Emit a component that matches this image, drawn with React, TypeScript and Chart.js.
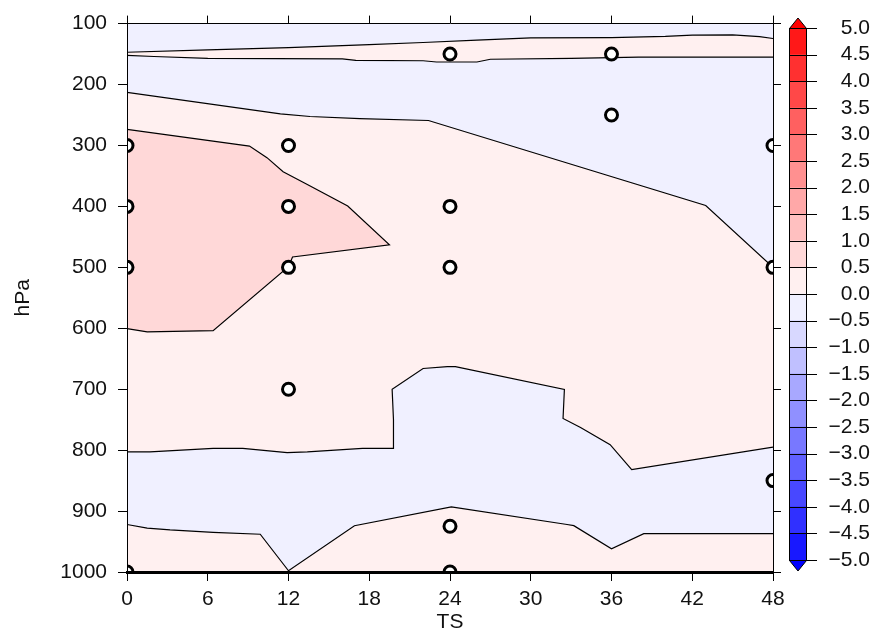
import React, { useEffect, useRef } from 'react';
import { Chart, registerables } from 'chart.js';

Chart.register(...registerables);

const FONT = "'Liberation Sans', Arial, Helvetica, sans-serif";

// ---- axes ----
const tsMin = 0;
const tsMax = 48;
const tsStep = 6;
const hpaMin = 100;
const hpaMax = 1000;
const hpaStep = 100;

// ---- contour lines (TS, hPa) ----
const lineTopUpperTS = [0, 6, 12, 18, 22, 26, 30, 36, 40, 42, 45, 47, 48];
const lineTopUpperHPa = [147, 143, 139.5, 134.5, 131, 127, 123.5, 123, 121, 119, 118.5, 121.5, 124.5];

const lineTopLowerTS = [0, 2, 6, 16, 17, 22, 23, 26, 27, 33, 38, 48];
const lineTopLowerHPa = [152, 154, 157, 158, 160.5, 161, 163, 163, 158.5, 157, 155, 155];

const lineUpperTS = [0, 11.4, 13.6, 17.3, 22.4, 43, 48];
const lineUpperHPa = [213, 248, 252.5, 256, 259, 398.5, 500];

const lineWarmTS = [0, 9.1, 10.4, 11.6, 13.4, 16.4, 19.5, 12.3, 12, 6.4, 1.5, 0];
const lineWarmHPa = [273.5, 301, 320, 343, 364, 399.5, 463, 483, 499, 604, 606, 600.5];

const lineMidTS = [0, 1.7, 6.4, 8.6, 11.9, 13.4, 17.5, 19.8, 19.8, 19.7, 22, 23.8, 24.4, 32.5, 32.4, 33.7, 35.9, 37.5, 48];
const lineMidHPa = [803, 803, 797, 797, 804, 803, 797, 797, 750, 700, 666, 663, 663, 700.5, 748, 763, 791, 832, 795];

const lineLowTS = [0, 1.5, 3.2, 6.4, 9.9, 12, 16.9, 24.1, 32.7, 33.2, 36, 38.4, 48];
const lineLowHPa = [922, 928, 931, 935, 938, 998, 924, 893, 922, 924, 962, 937, 937];

// ---- significance markers ----
const sigTS = [0, 0, 0, 0, 12, 12, 12, 12, 24, 24, 24, 24, 24, 36, 36, 48, 48, 48];
const sigHPa = [300, 400, 500, 1000, 300, 400, 500, 700, 150, 400, 500, 925, 1000, 150, 250, 300, 500, 850];

// ---- colour bar ----
const cbLevels = [-5.0, -4.5, -4.0, -3.5, -3.0, -2.5, -2.0, -1.5, -1.0, -0.5, 0.0, 0.5, 1.0, 1.5, 2.0, 2.5, 3.0, 3.5, 4.0, 4.5, 5.0];
const cbColors = [
  '#1818ff', '#3030ff', '#4848ff', '#6060ff', '#7878ff', '#9090ff', '#a8a8ff', '#c0c0ff', '#d8d8ff', '#f0f0ff',
  '#fff0f0', '#ffd8d8', '#ffc0c0', '#ffa8a8', '#ff9090', '#ff7878', '#ff6060', '#ff4848', '#ff3030', '#ff1818',
];
const cbUnderColor = '#0000ff';
const cbOverColor = '#ff0000';

const colNeg1 = '#f0f0ff'; // -0.5..0
const colPos1 = '#fff0f0'; // 0..0.5
const colPos2 = '#ffd8d8'; // 0.5..1.0

const pts = (xs: number[], ys: number[]) => xs.map((x, i) => ({ x, y: ys[i] }));
const rev = <T,>(a: T[]) => a.slice().reverse();

const tickFont = { family: FONT, size: 21 };
const TXT = '#111';

const fmtCb = (v: number) => (v < -1e-9 ? '\u2212' : '') + Math.abs(v).toFixed(1);

export default function App() {
  const mainRef = useRef<HTMLCanvasElement>(null);
  const cbRef = useRef<HTMLCanvasElement>(null);

  useEffect(() => {
    const frame = pts([tsMin, tsMax, tsMax, tsMin], [hpaMin, hpaMin, hpaMax, hpaMax]);
    const polyTop = [...pts([tsMin, tsMax], [hpaMin, hpaMin]), ...rev(pts(lineTopUpperTS, lineTopUpperHPa))];
    const polyUpperBlue = [...pts(lineTopLowerTS, lineTopLowerHPa), ...rev(pts(lineUpperTS, lineUpperHPa))];
    const polyWarm = pts(lineWarmTS, lineWarmHPa);
    const polyLowBlue = [...pts(lineMidTS, lineMidHPa), ...rev(pts(lineLowTS, lineLowHPa))];

    const poly = (data: any[], color: string, order: number) => ({
      type: 'line',
      data,
      xAxisID: 'x',
      yAxisID: 'y',
      fill: 'shape',
      backgroundColor: color,
      borderWidth: 0,
      borderColor: 'rgba(0,0,0,0)',
      pointRadius: 0,
      order,
    });
    const cline = (xs: number[], ys: number[]) => ({
      type: 'line',
      data: pts(xs, ys),
      xAxisID: 'x',
      yAxisID: 'y',
      fill: false,
      borderColor: '#000',
      borderWidth: 1.2,
      pointRadius: 0,
      order: 1,
    });

    const main = new Chart(mainRef.current!, {
      type: 'line',
      data: {
        datasets: [
          poly(frame, colPos1, 7),
          poly(polyTop, colNeg1, 6),
          poly(polyUpperBlue, colNeg1, 5),
          poly(polyWarm, colPos2, 4),
          poly(polyLowBlue, colNeg1, 3),
          cline(lineTopUpperTS, lineTopUpperHPa),
          cline(lineTopLowerTS, lineTopLowerHPa),
          cline(lineUpperTS, lineUpperHPa),
          cline(lineWarmTS, lineWarmHPa),
          cline(lineMidTS, lineMidHPa),
          cline(lineLowTS, lineLowHPa),
          {
            type: 'line',
            data: pts(sigTS, sigHPa),
            xAxisID: 'x',
            yAxisID: 'y',
            showLine: false,
            fill: false,
            pointRadius: 6,
            pointBorderWidth: 3,
            pointBackgroundColor: '#fff',
            pointBorderColor: '#000',
            pointStyle: 'circle',
            clip: 0,
            order: 0,
          },
        ] as any,
      },
      options: {
        animation: false,
        responsive: false,
        maintainAspectRatio: false,
        layout: { padding: 0 },
        events: [],
        plugins: { legend: { display: false }, tooltip: { enabled: false }, filler: { propagate: false } },
        elements: { line: { tension: 0 } },
        scales: {
          x: {
            type: 'linear',
            position: 'bottom',
            min: tsMin,
            max: tsMax,
            ticks: { stepSize: tsStep, font: tickFont, color: TXT, padding: 6, maxRotation: 0, autoSkip: false, callback: (v: any) => String(v), z: 1 },
            grid: { drawOnChartArea: false, drawTicks: true, tickLength: 9, color: '#000', lineWidth: 1, z: 1 },
            border: { display: true, color: '#000', width: 3, z: 1 },
            title: { display: true, text: 'TS', font: tickFont, color: TXT, padding: { top: 0, bottom: 1 } },
            afterFit: (s: any) => { s.height = 64; },
          },
          xTop: {
            type: 'linear',
            position: 'top',
            min: tsMin,
            max: tsMax,
            ticks: { display: false, stepSize: tsStep },
            grid: { drawOnChartArea: false, drawTicks: true, tickLength: 8, color: '#000', lineWidth: 1, z: 1 },
            border: { display: true, color: '#000', width: 1, z: 1 },
            afterFit: (s: any) => { s.height = 17; },
          },
          y: {
            type: 'linear',
            position: 'left',
            reverse: true,
            min: hpaMin,
            max: hpaMax,
            ticks: { stepSize: hpaStep, font: tickFont, color: TXT, padding: 11, autoSkip: false, callback: (v: any) => String(v), z: 1 },
            grid: { drawOnChartArea: false, drawTicks: true, tickLength: 9, color: '#000', lineWidth: 1, z: 1 },
            border: { display: true, color: '#000', width: 1, z: 1 },
            title: { display: true, text: 'hPa', font: tickFont, color: TXT, padding: { top: 11, bottom: 0 } },
            afterFit: (s: any) => { s.width = 127; },
          },
          yRight: {
            type: 'linear',
            position: 'right',
            reverse: true,
            min: hpaMin,
            max: hpaMax,
            ticks: { display: false, stepSize: hpaStep },
            grid: { drawOnChartArea: false, drawTicks: true, tickLength: 8, color: '#000', lineWidth: 1, z: 1 },
            border: { display: true, color: '#000', width: 1, z: 1 },
            afterFit: (s: any) => { s.width = 103; },
          },
        },
      } as any,
    });

    const cbFrame = {
      id: 'cbFrame',
      afterDraw(chart: any) {
        const { ctx, chartArea } = chart;
        const ys = chart.scales.y;
        const { left, right } = chartArea;
        const L = Math.round(left);
        const R = Math.round(right);
        const mid = (left + right) / 2;
        const yTop = ys.getPixelForValue(cbLevels[cbLevels.length - 1]);
        const yBot = ys.getPixelForValue(cbLevels[0]);
        ctx.save();
        ctx.lineWidth = 1;
        ctx.strokeStyle = '#000';
        // bin boundaries + outward ticks
        ctx.beginPath();
        for (const lv of cbLevels) {
          const y = Math.round(ys.getPixelForValue(lv)) + 0.5;
          ctx.moveTo(L, y);
          ctx.lineTo(R + 10, y);
        }
        ctx.moveTo(L + 0.5, Math.round(yTop));
        ctx.lineTo(L + 0.5, Math.round(yBot) + 1);
        ctx.moveTo(R - 0.5, Math.round(yTop));
        ctx.lineTo(R - 0.5, Math.round(yBot) + 1);
        ctx.stroke();
        // over / under arrows
        ctx.beginPath();
        ctx.moveTo(L + 0.5, yTop + 0.5);
        ctx.lineTo(mid, yTop - 10);
        ctx.lineTo(R - 0.5, yTop + 0.5);
        ctx.closePath();
        ctx.fillStyle = cbOverColor;
        ctx.fill();
        ctx.stroke();
        ctx.beginPath();
        ctx.moveTo(L + 0.5, yBot + 0.5);
        ctx.lineTo(mid, yBot + 11);
        ctx.lineTo(R - 0.5, yBot + 0.5);
        ctx.closePath();
        ctx.fillStyle = cbUnderColor;
        ctx.fill();
        ctx.stroke();
        ctx.restore();
      },
    };

    const cb = new Chart(cbRef.current!, {
      type: 'bar',
      data: {
        labels: ['cb'],
        datasets: cbColors.map((c, i) => ({
          data: [[cbLevels[i], cbLevels[i + 1]]],
          backgroundColor: c,
          borderWidth: 0,
          barPercentage: 1,
          categoryPercentage: 1,
          grouped: false,
        })) as any,
      },
      options: {
        animation: false,
        responsive: false,
        maintainAspectRatio: false,
        events: [],
        layout: { padding: { left: 9, right: 6, top: 28, bottom: 76 } },
        plugins: { legend: { display: false }, tooltip: { enabled: false } },
        scales: {
          x: { display: false },
          y: {
            position: 'right',
            min: cbLevels[0],
            max: cbLevels[cbLevels.length - 1],
            ticks: {
              stepSize: 0.5,
              autoSkip: false,
              crossAlign: 'far',
              padding: 4,
              font: tickFont,
              color: TXT,
              callback: (v: any) => fmtCb(Number(v)),
            },
            grid: { display: false, drawTicks: false, tickLength: 10 },
            border: { display: false },
            afterFit: (s: any) => { s.width = 63; },
          },
        },
      } as any,
      plugins: [cbFrame],
    });

    return () => {
      main.destroy();
      cb.destroy();
    };
  }, []);

  return (
    <div style={{ position: 'fixed', left: 0, top: 0, width: 876, height: 636, background: '#fff' }}>
      <canvas
        ref={mainRef}
        width={876}
        height={636}
        style={{ position: 'absolute', left: 0, top: 0, width: 876, height: 636, display: 'block' }}
      />
      <canvas
        ref={cbRef}
        width={96}
        height={636}
        style={{ position: 'absolute', left: 780, top: 0, width: 96, height: 636, display: 'block' }}
      />
    </div>
  );
}
